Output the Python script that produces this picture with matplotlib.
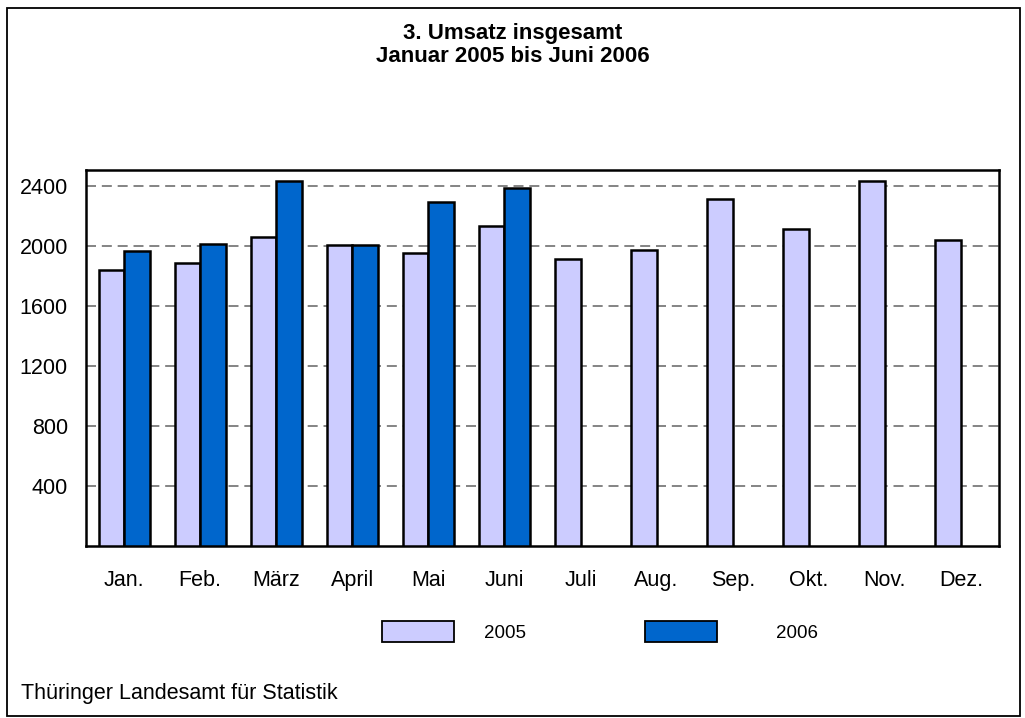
import matplotlib.pyplot as plt
from matplotlib.patches import Rectangle
import numpy as np

plt.rcParams['font.family'] = ['Liberation Sans', 'DejaVu Sans']

# Monatsnamen und Umsatzwerte
monate = ["Jan.", "Feb.", "März", "April", "Mai", "Juni",
          "Juli", "Aug.", "Sep.", "Okt.", "Nov.", "Dez."]
umsatz_2005 = [1838, 1883, 2056, 2007, 1953, 2129,
               1911, 1969, 2313, 2113, 2429, 2040]
umsatz_2006 = [1963, 2011, 2431, 2005, 2293, 2383]
y_ticks = [400, 800, 1200, 1600, 2000, 2400]

farbe_2005 = "#CCCCFF"
farbe_2006 = "#0066CC"

W, H = 1025, 718
fig = plt.figure(figsize=(W / 100, H / 100), dpi=100)
ax = fig.add_axes([86 / W, 1 - 546 / H, 913 / W, 376 / H])

breite = 0.335
x = np.arange(len(monate))
ax.bar(x - breite / 2, umsatz_2005, width=breite, color=farbe_2005,
       edgecolor="black", linewidth=1.8, zorder=3)
ax.bar(x[:len(umsatz_2006)] + breite / 2, umsatz_2006, width=breite,
       color=farbe_2006, edgecolor="black", linewidth=1.8, zorder=3)

ax.set_xlim(-0.5, 11.5)
ax.set_ylim(0, 2505)
ax.set_yticks(y_ticks)
ax.set_xticks(x)
ax.set_xticklabels(monate)
ax.tick_params(axis="both", length=0, labelsize=15.5)
ax.tick_params(axis="x", pad=17)
ax.tick_params(axis="y", pad=13)
ax.yaxis.grid(True, color="#707070", linestyle=(0, (6, 3.5)), linewidth=1.2)
ax.set_axisbelow(True)
for s in ax.spines.values():
    s.set_linewidth(1.8)

# Titel
fig.text(0.5, 1 - 33 / H, "3. Umsatz insgesamt", ha="center", va="center",
         fontsize=16, fontweight="bold")
fig.text(0.5, 1 - 56 / H, "Januar 2005 bis Juni 2006", ha="center", va="center",
         fontsize=16, fontweight="bold")

# Legende
for x0, farbe, jahr, tx in [(382, farbe_2005, "2005", 484), (645, farbe_2006, "2006", 776)]:
    fig.patches.append(Rectangle((x0 / W, 1 - 642 / H), 72 / W, 21 / H,
                                 transform=fig.transFigure, facecolor=farbe,
                                 edgecolor="black", linewidth=1.3))
    fig.text(tx / W, 1 - 634 / H, jahr, ha="left", va="center", fontsize=13.5)

# Quelle
fig.text(21 / W, 1 - 694 / H, "Thüringer Landesamt für Statistik",
         ha="left", va="center", fontsize=15.5)

# Rahmen
fig.patches.append(Rectangle((7 / W, 1 - 716 / H), 1013 / W, 708 / H,
                             transform=fig.transFigure, fill=False,
                             edgecolor="black", linewidth=1.3))

fig.savefig("out.png", dpi=100)
